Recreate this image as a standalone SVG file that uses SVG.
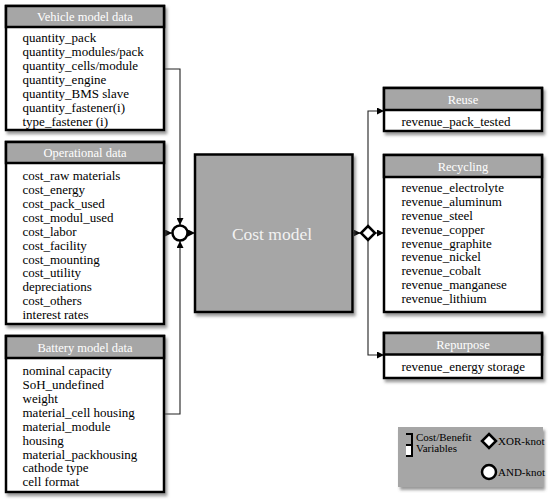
<svg xmlns="http://www.w3.org/2000/svg" width="550" height="502" viewBox="0 0 550 502">
<defs>
<filter id="sh" x="-10%" y="-10%" width="130%" height="130%">
<feDropShadow dx="2" dy="3" stdDeviation="1.6" flood-color="#555" flood-opacity="0.6"/>
</filter>
<marker id="ah" viewBox="0 0 10 10" refX="10" refY="5" markerWidth="7" markerHeight="7" markerUnits="userSpaceOnUse" orient="auto">
<path d="M0,0 L10,5 L0,10 Z" fill="#000"/>
</marker>
<style>
.box{fill:#fff;stroke:#000;stroke-width:2.5;filter:url(#sh)}
.hd{fill:#a6a6a6;stroke:#000;stroke-width:2.5}
.ht{font-family:"Palatino Linotype","Book Antiqua",Palatino,"Liberation Serif",serif;font-size:12.5px;fill:#fff;text-anchor:middle}
.t{font-family:"Palatino Linotype","Book Antiqua",Palatino,"Liberation Serif",serif;font-size:13px;fill:#000}
.c{fill:none;stroke:#222;stroke-width:1.1}
.lg{font-family:"Palatino Linotype","Book Antiqua",Palatino,"Liberation Serif",serif;font-size:11px;fill:#000}
</style>
</defs>

<g id="connectors">
<path class="c" d="M164,69 H180 V225" marker-end="url(#ah)"/>
<path class="c" d="M164,414 H180 V241" marker-end="url(#ah)"/>
<path class="c" d="M164,233 H172" marker-end="url(#ah)"/>
<path class="c" d="M188,233 H195" marker-end="url(#ah)"/>
<path class="c" d="M352,233 H360.5" marker-end="url(#ah)"/>
<path class="c" d="M375.5,233 H384" marker-end="url(#ah)"/>
<path class="c" d="M368,226 V111 H384" marker-end="url(#ah)"/>
<path class="c" d="M368,240 V355 H384" marker-end="url(#ah)"/>
</g>

<g id="and-knot">
<circle cx="180" cy="233" r="7.5" fill="#fff" stroke="#000" stroke-width="2.5"/>
</g>
<g id="xor-knot">
<path d="M368,226 L375,233 L368,240 L361,233 Z" fill="#fff" stroke="#000" stroke-width="2.5"/>
</g>

<g id="vehicle">
<rect class="box" x="6" y="6" width="158" height="124"/>
<rect class="hd" x="6" y="6" width="158" height="21"/>
<text class="ht" x="85" y="21">Vehicle model data</text>
<text class="t" x="22.5" y="42">quantity_pack</text>
<text class="t" x="22.5" y="56">quantity_modules/pack</text>
<text class="t" x="22.5" y="70">quantity_cells/module</text>
<text class="t" x="22.5" y="84">quantity_engine</text>
<text class="t" x="22.5" y="98">quantity_BMS slave</text>
<text class="t" x="22.5" y="112">quantity_fastener(i)</text>
<text class="t" x="22.5" y="126">type_fastener (i)</text>
</g>

<g id="operational">
<rect class="box" x="6" y="142" width="158" height="182"/>
<rect class="hd" x="6" y="142" width="158" height="21"/>
<text class="ht" x="85" y="157">Operational data</text>
<text class="t" x="22.5" y="180">cost_raw materials</text>
<text class="t" x="22.5" y="194">cost_energy</text>
<text class="t" x="22.5" y="208">cost_pack_used</text>
<text class="t" x="22.5" y="222">cost_modul_used</text>
<text class="t" x="22.5" y="236">cost_labor</text>
<text class="t" x="22.5" y="249.5">cost_facility</text>
<text class="t" x="22.5" y="263.5">cost_mounting</text>
<text class="t" x="22.5" y="277">cost_utility</text>
<text class="t" x="22.5" y="291">depreciations</text>
<text class="t" x="22.5" y="305">cost_others</text>
<text class="t" x="22.5" y="319">interest rates</text>
</g>

<g id="battery">
<rect class="box" x="6" y="336" width="158" height="156"/>
<rect class="hd" x="6" y="336" width="158" height="22"/>
<text class="ht" x="85" y="351.5">Battery model data</text>
<text class="t" x="22.5" y="375">nominal capacity</text>
<text class="t" x="22.5" y="388.5">SoH_undefined</text>
<text class="t" x="22.5" y="402.5">weight</text>
<text class="t" x="22.5" y="416.5">material_cell housing</text>
<text class="t" x="22.5" y="430.5">material_module</text>
<text class="t" x="22.5" y="444.5">housing</text>
<text class="t" x="22.5" y="458.5">material_packhousing</text>
<text class="t" x="22.5" y="472">cathode type</text>
<text class="t" x="22.5" y="486">cell format</text>
</g>

<g id="cost-model">
<rect x="195" y="154.5" width="157.5" height="157.5" fill="#a6a6a6" stroke="#000" stroke-width="2.5" filter="url(#sh)"/>
<text x="272" y="239.5" font-family="'Palatino Linotype','Book Antiqua',Palatino,'Liberation Serif',serif" font-size="17.5" fill="#f2f2f2" text-anchor="middle">Cost model</text>
</g>

<g id="reuse">
<rect class="box" x="384" y="88" width="158" height="43"/>
<rect class="hd" x="384" y="88" width="158" height="22"/>
<text class="ht" x="463" y="103.5">Reuse</text>
<text class="t" x="401.5" y="126">revenue_pack_tested</text>
</g>

<g id="recycling">
<rect class="box" x="384" y="155" width="158" height="157"/>
<rect class="hd" x="384" y="155" width="158" height="22"/>
<text class="ht" x="463" y="170.5">Recycling</text>
<text class="t" x="401.5" y="192">revenue_electrolyte</text>
<text class="t" x="401.5" y="205.5">revenue_aluminum</text>
<text class="t" x="401.5" y="219.5">revenue_steel</text>
<text class="t" x="401.5" y="233.5">revenue_copper</text>
<text class="t" x="401.5" y="247.5">revenue_graphite</text>
<text class="t" x="401.5" y="261">revenue_nickel</text>
<text class="t" x="401.5" y="275">revenue_cobalt</text>
<text class="t" x="401.5" y="288.5">revenue_manganese</text>
<text class="t" x="401.5" y="302.5">revenue_lithium</text>
</g>

<g id="repurpose">
<rect class="box" x="384" y="333" width="158" height="45"/>
<rect class="hd" x="384" y="333" width="158" height="21.5"/>
<text class="ht" x="463" y="348.5">Repurpose</text>
<text class="t" x="401.5" y="371">revenue_energy storage</text>
</g>

<g id="legend">
<rect x="398" y="427" width="145" height="60" fill="#a6a6a6" filter="url(#sh)"/>
<path d="M406,434 H412 V444" fill="none" stroke="#000" stroke-width="2"/>
<rect x="406" y="445" width="6" height="11" fill="#fff" stroke="none"/>
<path d="M406,445 H412 V456 H406" fill="none" stroke="#000" stroke-width="2"/>
<text class="lg" x="416" y="441">Cost/Benefit</text>
<text class="lg" x="416" y="452">Variables</text>
<path d="M489,434 L496,441 L489,448 L482,441 Z" fill="#fff" stroke="#000" stroke-width="2.5"/>
<text class="lg" x="498" y="445">XOR-knot</text>
<circle cx="489" cy="472" r="7" fill="#fff" stroke="#000" stroke-width="2.5"/>
<text class="lg" x="498" y="475.5">AND-knot</text>
</g>
</svg>
